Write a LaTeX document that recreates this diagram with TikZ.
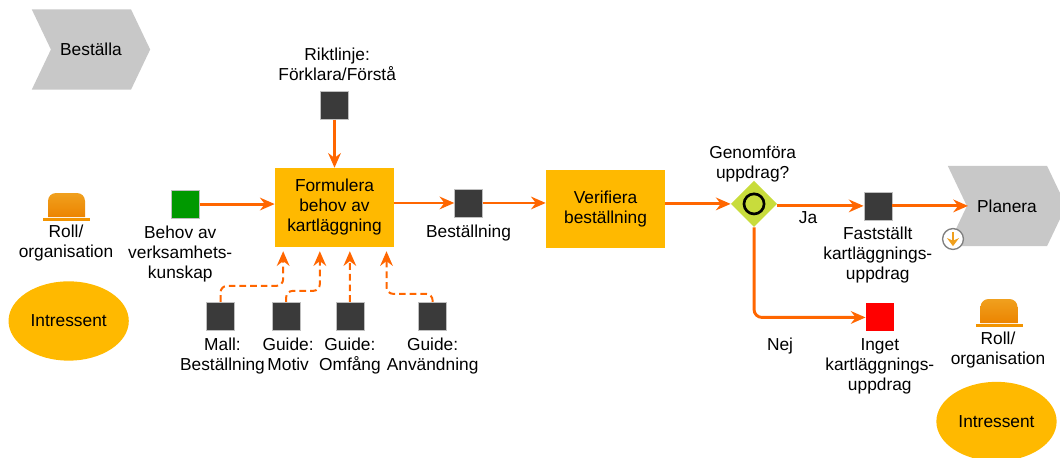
\documentclass[tikz,border=0pt]{standalone}
\usepackage{fontspec}
\setmainfont{Liberation Sans}
\usetikzlibrary{shapes.geometric,shapes.symbols,arrows.meta,positioning}
\definecolor{stepcolor}{RGB}{255,185,0}
\definecolor{flowcolor}{RGB}{255,102,0}
\definecolor{phasecolor}{RGB}{200,200,200}
\definecolor{infocolor}{RGB}{58,58,58}
\definecolor{gatecolor}{RGB}{200,220,60}
\definecolor{hattop}{RGB}{240,160,30}
\definecolor{hatbottom}{RGB}{236,132,0}

\begin{document}
\begin{tikzpicture}[
    x=0.75pt, y=-0.75pt,
    stepblock/.style={rectangle, fill=stepcolor, align=center, minimum width=3.14cm, minimum height=2.08cm, inner sep=0pt, font=\fontsize{13}{15}\selectfont},
    phase/.style={signal, signal from=west, signal to=east, signal pointer angle=129, fill=phasecolor, minimum width=3.12cm, minimum height=2.11cm, inner sep=0pt, font=\fontsize{13}{15}\selectfont},
    info/.style={rectangle, draw=gray!50, line width=0.3pt, fill=infocolor, minimum size=0.74cm, inner sep=0pt},
    txt/.style={align=center, inner sep=0pt, font=\fontsize{13}{15}\selectfont},
    party/.style={ellipse, fill=stepcolor, minimum width=3.17cm, minimum height=2.09cm, inner sep=0pt, font=\fontsize{13}{15}\selectfont},
    arrow/.style={-{Stealth[length=11pt,width=9.5pt]}, flowcolor, line width=2.2pt},
    dasharrow/.style={-{Stealth[length=11pt,width=9.5pt]}, flowcolor, line width=1.5pt, dash pattern=on 5pt off 3pt, rounded corners=5pt},
    hat/.pic={
        \shade[top color=hattop, bottom color=hatbottom] (-18.5,12) [rounded corners=6pt] -- (-18.5,-12) -- (18.5,-12) [sharp corners] -- (18.5,12) -- cycle;
        \fill[hatbottom!70!stepcolor] (-23.5,13) rectangle (23.5,16);
    }
]

\useasboundingbox (0,0) rectangle (1060,457);
\clip (0,0) rectangle (1060,457);

% Process steps
\node[stepblock] (formulera) at (334.5,207.5) {Formulera\\behov av\\kartläggning};
\node[info, right=1.58cm of formulera, yshift=3.4pt] (bestallning) {};
\node[stepblock, right=1.66cm of bestallning, yshift=-4.5pt] (verifiera) {Verifiera\\beställning};

% Decision
\node[diamond, fill=gatecolor, minimum size=1.22cm, inner sep=0pt, right=1.72cm of verifiera, yshift=3.8pt] (gate) {};
\node[circle, draw=black, line width=2pt, minimum size=0.53cm, inner sep=0pt] (gate_mark) at (gate) {};
\node[txt, above=-0.06cm of gate, xshift=-1pt] (gate_text) {Genomföra\\uppdrag?};

% Input and guide objects
\node[info, fill=green!60!black, left=1.98cm of formulera, yshift=2.6pt] (behov) {};
\node[info, above=1.27cm of formulera] (riktlinje) {};
\node[info, below=1.44cm of formulera, xshift=-85.5pt] (mall) {};
\node[info, right=0.98cm of mall] (motiv) {};
\node[info, right=0.93cm of motiv] (omfang) {};
\node[info, right=1.43cm of omfang] (anvandning) {};

% Result objects
\node[info, right=2.27cm of gate, yshift=-1.5pt] (faststallt) {};
\node[info, fill=red, draw=none, below=2.19cm of faststallt, xshift=1.5pt] (inget) {};

% Phases
\node[phase] (bestalla) at (91,49.5) {Beställa};
\node[phase] (planera) at (1007,206) {Planera};
\coordinate (planera_in) at (968,206);
\node[circle, draw=gray, line width=1pt, fill=white, minimum size=0.55cm, inner sep=0pt] (sub_icon) at (953,239) {};

% Roles
\pic at (66.5,205) {hat};
\pic at (999,311) {hat};
\node[txt] (roll_a) at (66,243) {Roll/\\organisation};
\node[txt] (roll_b) at (998,350) {Roll/\\organisation};
\node[party, below=0.52cm of roll_a, xshift=2pt] (intressent_a) {Intressent};
\node[party] (intressent_b) at (996.5,421.5) {Intressent};

% Object labels
\node[txt, below=0.2cm of behov, xshift=-3.8pt] (behov_text) {Behov av\\verksamhets-\\kunskap};
\node[txt, above=0.28cm of riktlinje, xshift=2pt] (riktlinje_text) {Riktlinje:\\Förklara/Förstå};
\node[txt, below=0.2cm of bestallning] (bestallning_text) {Beställning};
\node[txt, below=0.2cm of mall, xshift=1.5pt] (mall_text) {Mall:\\Beställning};
\node[txt, below=0.2cm of motiv, xshift=1.5pt] (motiv_text) {Guide:\\Motiv};
\node[txt, below=0.2cm of omfang] (omfang_text) {Guide:\\Omfång};
\node[txt, below=0.2cm of anvandning] (anvandning_text) {Guide:\\Användning};
\node[txt, below=0.17cm of faststallt] (faststallt_text) {Fastställt\\kartläggnings-\\uppdrag};
\node[txt, below=0.17cm of inget] (inget_text) {Inget\\kartläggnings-\\uppdrag};
\node[txt] (ja) at (808,218) {Ja};
\node[txt] (nej) at (780,346) {Nej};

% Main flow
\draw[arrow] (behov) -- (behov -| formulera.west);
\draw[arrow] (riktlinje) -- (formulera);
\draw[arrow] (formulera.east |- bestallning) -- (bestallning);
\draw[arrow] (bestallning) -- (bestallning -| verifiera.west);
\draw[arrow] (verifiera.east |- gate) -- (gate);
\draw[arrow] (gate.east |- faststallt) -- (faststallt);
\draw[arrow, rounded corners=6pt] (gate.south) |- (inget);
\draw[arrow] (faststallt) -- (faststallt -| planera_in);

% Guides
\coordinate (in_a) at ([xshift=-38.5pt,yshift=-3pt]formulera.south);
\coordinate (in_b) at ([xshift=-11pt,yshift=-3pt]formulera.south);
\coordinate (in_c) at ([xshift=11.5pt,yshift=-3pt]formulera.south);
\coordinate (in_d) at ([xshift=39pt,yshift=-3pt]formulera.south);
\draw[dasharrow] (mall.north) -- ++(0,-16) -| (in_a);
\draw[dasharrow] (motiv.north) -- ++(0,-11) -| (in_b);
\draw[dasharrow] (omfang.north) -- (in_c);
\draw[dasharrow] (anvandning.north) -- ++(0,-8) -| (in_d);

% Sub process mark
\draw[-{Stealth[length=6pt,width=9pt]}, hattop, line width=2.2pt] ([yshift=-3pt]sub_icon.north) -- ([yshift=3pt]sub_icon.south);

\end{tikzpicture}
\end{document}
